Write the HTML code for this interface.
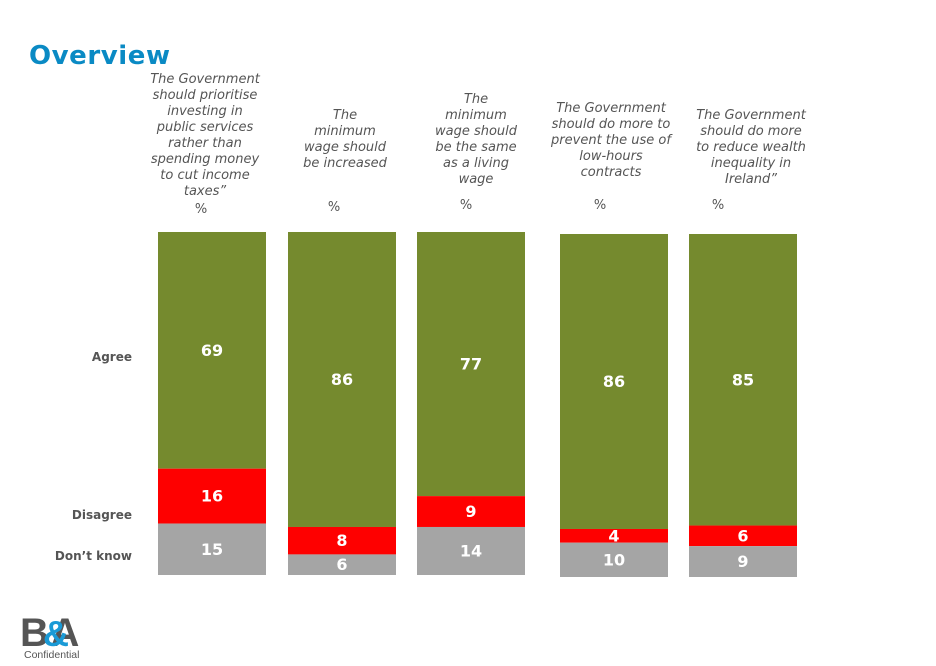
<!DOCTYPE html>
<html><head><meta charset="utf-8"><style>
body{margin:0;background:#fff;width:936px;height:662px;overflow:hidden;font-family:"DejaVu Sans","Liberation Sans",sans-serif}
</style></head><body>
<svg width="936" height="662" xmlns="http://www.w3.org/2000/svg">
<text x="29" y="64" font-size="26" font-weight="bold" fill="#0a8ac4" font-family="DejaVu Sans, sans-serif" textLength="141">Overview</text>
<g id="titles" font-size="13" font-style="italic" fill="#555" text-anchor="middle"></g>
<g id="rowlabels" font-size="12" font-weight="bold" fill="#555" text-anchor="end">
<text x="132" y="361">Agree</text>
<text x="132" y="519">Disagree</text>
<text x="132" y="560">Don’t know</text>
</g>
<g id="bars"></g>
<g>
<text x="20" y="646" font-size="40" font-weight="bold" fill="#555" font-family="Liberation Sans, sans-serif" letter-spacing="-4">B A</text>
<text x="56" y="646" font-size="36" font-weight="bold" fill="#1a9ad6" text-anchor="middle" font-family="Liberation Sans, sans-serif">&amp;</text>
<text x="24" y="658" font-size="10.5" fill="#555" font-family="Liberation Sans, sans-serif">Confidential</text>
</g>
</svg>
<script>
const categories=["prioritise-public-services","raise-minimum-wage","minimum-equals-living-wage","low-hours-contracts","reduce-wealth-inequality"];
const agree=[69,86,77,86,85];
const disagree=[16,8,9,4,6];
const dontKnow=[15,6,14,10,9];
const titleLines=[
["The Government","should prioritise","investing in","public services","rather than","spending money","to cut income","taxes”"],
["The","minimum","wage should","be increased"],
["The","minimum","wage should","be the same","as a living","wage"],
["The Government","should do more to","prevent the use of","low-hours","contracts"],
["The Government","should do more","to reduce wealth","inequality in","Ireland”"]];
const barX=[158,288,417,560,689];
const barTop=[232,232,232,234,234];
const barW=108, barH=343;
const titleTop=[83,119,103,112,119];
const pctY=[213,211,209,209,209];
const NS="http://www.w3.org/2000/svg";
const gb=document.getElementById('bars'), gt=document.getElementById('titles');
function yScale(i,v){return barTop[i]+v/100*barH;}
categories.forEach((c,i)=>{
  const g=document.createElementNS(NS,'g');
  
  
  const segs=[[agree[i],'#758a2e','agree'],[disagree[i],'#fe0000','disagree'],[dontKnow[i],'#a5a5a5','dont-know']];
  let cum=0;
  segs.forEach(([v,col,n])=>{
    const y0=yScale(i,cum), y1=yScale(i,cum+v);
    const r=document.createElementNS(NS,'rect');
    r.setAttribute('x',barX[i]);r.setAttribute('y',y0);r.setAttribute('width',barW);r.setAttribute('height',y1-y0);r.setAttribute('fill',col);
    
    
    g.appendChild(r);
    const t=document.createElementNS(NS,'text');
    t.setAttribute('x',barX[i]+barW/2);t.setAttribute('y',(y0+y1)/2+5.5);t.setAttribute('text-anchor','middle');
    t.setAttribute('font-size','16');t.setAttribute('font-weight','bold');t.setAttribute('fill','#fff');
    
    
    t.textContent=v;g.appendChild(t);
    cum+=v;
  });
  gb.appendChild(g);
  const tt=document.createElementNS(NS,'text');
  
  
  titleLines[i].forEach((l,k)=>{
    const s=document.createElementNS(NS,'tspan');
    s.setAttribute('x',[205,345,476,611,751][i]);s.setAttribute('y',titleTop[i]+k*16);s.textContent=l;tt.appendChild(s);
  });
  gt.appendChild(tt);
  const p=document.createElementNS(NS,'text');
  p.setAttribute('x',[201,334,466,600,718][i]);p.setAttribute('y',pctY[i]);
  
  
  p.setAttribute('font-style','normal');
  p.textContent='%';gt.appendChild(p);
});
</script>
</body></html>
